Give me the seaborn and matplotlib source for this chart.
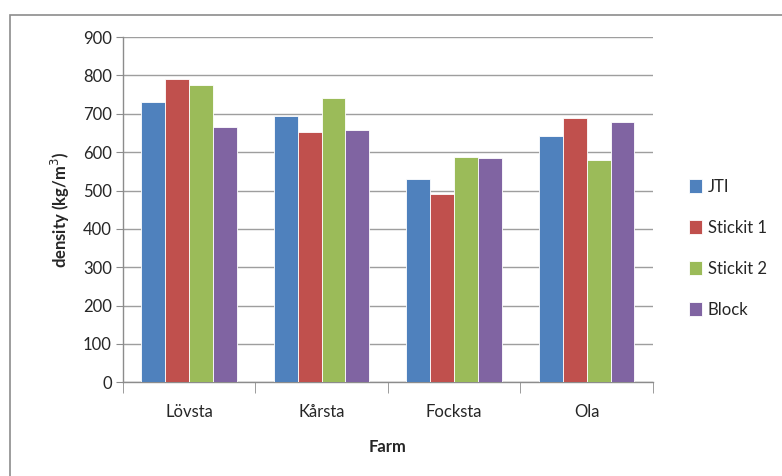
import pandas as pd
import numpy as np
import matplotlib
matplotlib.use('Agg')
import matplotlib.pyplot as plt
import seaborn as sns
from matplotlib.patches import Rectangle
from matplotlib.ticker import FixedLocator

farms = ['Lövsta', 'Kårsta', 'Focksta', 'Ola']
methods = ['JTI', 'Stickit 1', 'Stickit 2', 'Block']
jti = [730, 695, 530, 641]
stickit1 = [790, 652, 490, 690]
stickit2 = [775, 742, 588, 580]
block = [665, 658, 585, 678]
colors = ['#4F81BD', '#C0504D', '#9BBB59', '#8064A2']

df = pd.DataFrame({'Farm': farms * 4,
                   'Method': sum([[m] * 4 for m in methods], []),
                   'density': jti + stickit1 + stickit2 + block})

sns.set_style('white')
plt.rcParams['font.family'] = ['Lato', 'DejaVu Sans']

fig = plt.figure(figsize=(7.82, 4.76), dpi=100)
ax = fig.add_axes([0.157, 0.197, 0.678, 0.725])

# outer chart border like the spreadsheet frame
fig.patches.append(Rectangle((10 / 782, -0.01), 1.0, 1 - 15 / 476 + 0.01,
                             transform=fig.transFigure, fill=False,
                             edgecolor='#8c8c8c', linewidth=1.2))

sns.barplot(data=df, x='Farm', y='density', hue='Method', palette=colors,
            saturation=1, width=0.72, gap=0, edgecolor='white', linewidth=0.6,
            ax=ax, zorder=3)

ax.set_ylim(0, 900)
ax.set_xlim(-0.5, 3.5)
ax.set_yticks(np.arange(0, 901, 100))
ax.yaxis.grid(True, color='#9e9e9e', linewidth=1.0, zorder=0)
ax.set_axisbelow(True)
for s in ['top', 'right']:
    ax.spines[s].set_visible(False)
for s in ['left', 'bottom']:
    ax.spines[s].set_color('#8c8c8c')
    ax.spines[s].set_linewidth(1.0)

ax.tick_params(axis='y', length=5, color='#8c8c8c', labelsize=12, pad=3, left=True)
ax.tick_params(axis='x', which='major', length=0, labelsize=12, pad=16)
ax.xaxis.set_minor_locator(FixedLocator([-0.5, 0.5, 1.5, 2.5, 3.5]))
ax.tick_params(axis='x', which='minor', length=8, color='#8c8c8c', bottom=True)

ax.set_xlabel('Farm', fontsize=12, fontweight='bold', labelpad=13)
ax.set_ylabel('density (kg/m$^3$)', fontsize=12, fontweight='bold', labelpad=8)

leg = ax.legend(loc='center left', bbox_to_anchor=(1.04, 0.388), frameon=False,
                fontsize=12, handlelength=0.75, handleheight=0.9,
                handletextpad=0.35, labelspacing=1.5)

fig.savefig('out.png', dpi=100)
